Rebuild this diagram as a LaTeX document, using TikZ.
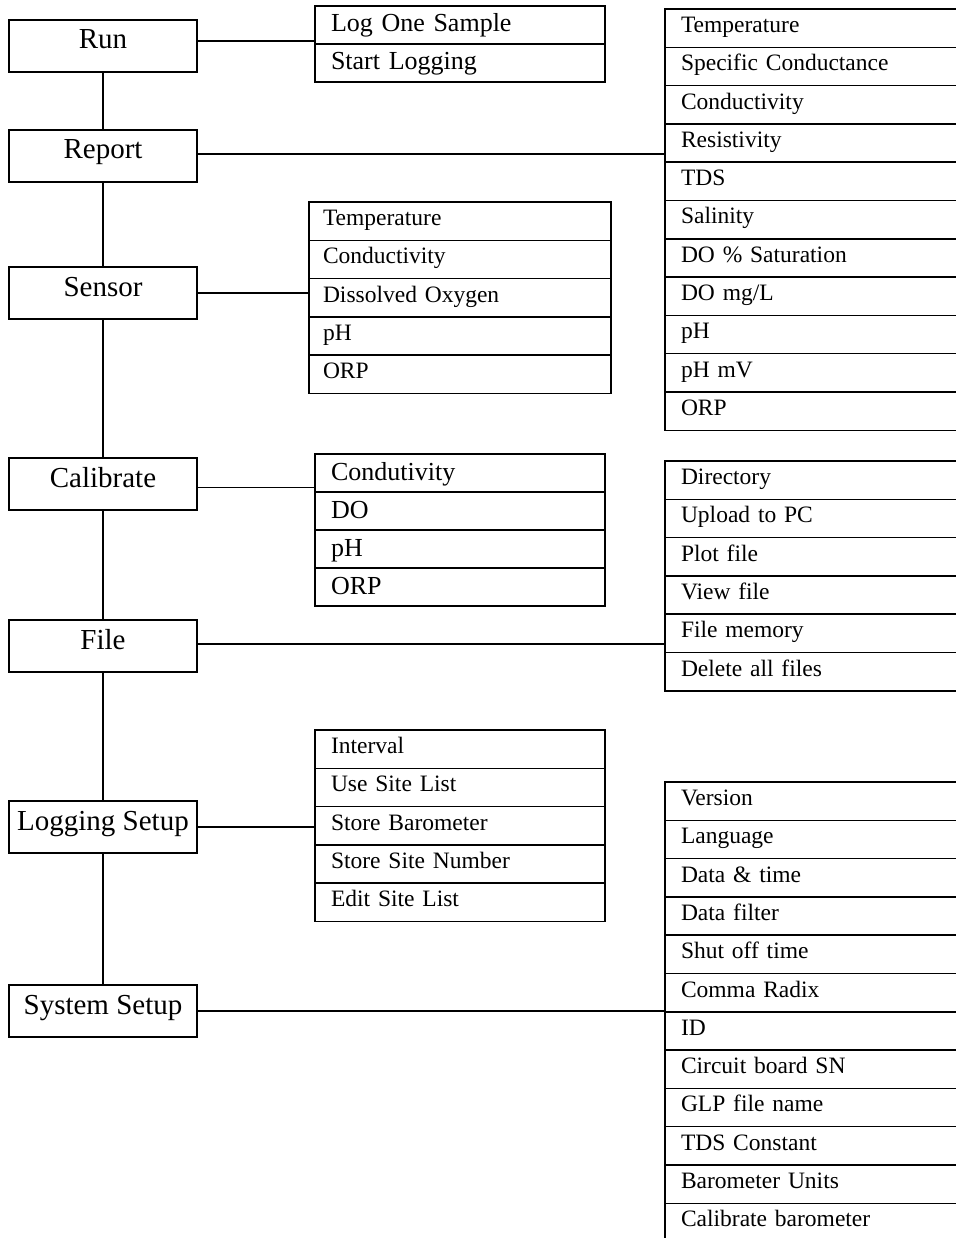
\documentclass[tikz,border=0pt]{standalone}
\usepackage{fontspec}
\setmainfont{Liberation Serif}
\usetikzlibrary{positioning}
\tikzset{
    menu_node/.style={rectangle, draw=black, line width=1.5pt, inner sep=0pt, outer sep=0pt, minimum width=188pt, text height=29pt, text depth=23pt, text centered, font=\fontsize{29}{34}\selectfont},
    item/.style={rectangle, draw=black, line width=1.5pt, inner ysep=0pt, inner xsep=16pt, outer sep=0pt, align=left, text height=23.5pt, text depth=14.8pt, font=\fontsize{23.5}{28}\selectfont},
    mid_item/.style={item, text width=258pt},
    wide_item/.style={item, text width=270pt},
    right_item/.style={item, text width=268pt},
    big_item/.style={mid_item, text height=26pt, text depth=12pt, font=\fontsize{26}{31}\selectfont},
    line/.style={line width=1.5pt},
}

\begin{document}
\begin{tikzpicture}[x=1pt, y=-1pt, node distance=0pt]
      \useasboundingbox (0,0) rectangle (955,1238);

      % main menu
      \node (run) at (103,20) [menu_node, anchor=north]{Run};
      \node (report) at (103,130) [menu_node, anchor=north]{Report};
      \node (sensor) at (103,267) [menu_node, anchor=north]{Sensor};
      \node (calibrate) at (103,458) [menu_node, anchor=north]{Calibrate};
      \node (file) at (103,620) [menu_node, anchor=north]{File};
      \node (logging) at (103,801) [menu_node, anchor=north]{Logging Setup};
      \node (system) at (103,985) [menu_node, anchor=north]{System Setup};

      % run
      \node (run_1) at (315,6) [big_item, anchor=north west]{Log One Sample};
      \node (run_2) [big_item, below=of run_1]{Start Logging};

      % report
      \node (rep_1) at (665,9) [right_item, anchor=north west]{Temperature};
      \node (rep_2) [right_item, below=of rep_1]{Specific Conductance};
      \node (rep_3) [right_item, below=of rep_2]{Conductivity};
      \node (rep_4) [right_item, below=of rep_3]{Resistivity};
      \node (rep_5) [right_item, below=of rep_4]{TDS};
      \node (rep_6) [right_item, below=of rep_5]{Salinity};
      \node (rep_7) [right_item, below=of rep_6]{DO \% Saturation};
      \node (rep_8) [right_item, below=of rep_7]{DO mg/L};
      \node (rep_9) [right_item, below=of rep_8]{pH};
      \node (rep_10) [right_item, below=of rep_9]{pH mV};
      \node (rep_11) [right_item, below=of rep_10]{ORP};

      % sensor
      \node (sen_1) at (309,202) [wide_item, anchor=north west, inner xsep=14pt, text width=274pt]{Temperature};
      \node (sen_2) [wide_item, below=of sen_1, inner xsep=14pt, text width=274pt]{Conductivity};
      \node (sen_3) [wide_item, below=of sen_2, inner xsep=14pt, text width=274pt]{Dissolved Oxygen};
      \node (sen_4) [wide_item, below=of sen_3, inner xsep=14pt, text width=274pt]{pH};
      \node (sen_5) [wide_item, below=of sen_4, inner xsep=14pt, text width=274pt]{ORP};

      % calibrate
      \node (cal_1) at (315,454) [big_item, anchor=north west]{Condutivity};
      \node (cal_2) [big_item, below=of cal_1]{DO};
      \node (cal_3) [big_item, below=of cal_2]{pH};
      \node (cal_4) [big_item, below=of cal_3]{ORP};

      % file
      \node (file_1) at (665,461) [right_item, anchor=north west]{Directory};
      \node (file_2) [right_item, below=of file_1]{Upload to PC};
      \node (file_3) [right_item, below=of file_2]{Plot file};
      \node (file_4) [right_item, below=of file_3]{View file};
      \node (file_5) [right_item, below=of file_4]{File memory};
      \node (file_6) [right_item, below=of file_5]{Delete all files};

      % logging setup
      \node (log_1) at (315,730) [mid_item, anchor=north west]{Interval};
      \node (log_2) [mid_item, below=of log_1]{Use Site List};
      \node (log_3) [mid_item, below=of log_2]{Store Barometer};
      \node (log_4) [mid_item, below=of log_3]{Store Site Number};
      \node (log_5) [mid_item, below=of log_4]{Edit Site List};

      % system setup
      \node (sys_1) at (665,782) [right_item, anchor=north west]{Version};
      \node (sys_2) [right_item, below=of sys_1]{Language};
      \node (sys_3) [right_item, below=of sys_2]{Data \& time};
      \node (sys_4) [right_item, below=of sys_3]{Data filter};
      \node (sys_5) [right_item, below=of sys_4]{Shut off time};
      \node (sys_6) [right_item, below=of sys_5]{Comma Radix};
      \node (sys_7) [right_item, below=of sys_6]{ID};
      \node (sys_8) [right_item, below=of sys_7]{Circuit board SN};
      \node (sys_9) [right_item, below=of sys_8]{GLP file name};
      \node (sys_10) [right_item, below=of sys_9]{TDS Constant};
      \node (sys_11) [right_item, below=of sys_10]{Barometer Units};
      \node (sys_12) [right_item, below=of sys_11]{Calibrate barometer};

      \draw [line] (run) -- (report);
      \draw [line] (report) -- (sensor);
      \draw [line] (sensor) -- (calibrate);
      \draw [line] (calibrate) -- (file);
      \draw [line] (file) -- (logging);
      \draw [line] (logging) -- (system);

      \draw [line] ([yshift=5pt]run.east) -- ([yshift=5pt]run.east -| run_1.west);
      \draw [line] ([yshift=2pt]report.east) -- ([yshift=2pt]report.east -| rep_4.west);
      \draw [line] (sensor.east) -- (sensor.east -| sen_3.west);
      \draw [line] ([yshift=-3.5pt]calibrate.east) -- ([yshift=-3.5pt]calibrate.east -| cal_1.west);
      \draw [line] ([yshift=2pt]file.east) -- ([yshift=2pt]file.east -| file_5.west);
      \draw [line] (logging.east) -- (logging.east -| log_3.west);
      \draw [line] (system.east) -- (system.east -| sys_7.west);
\end{tikzpicture}
\end{document}
